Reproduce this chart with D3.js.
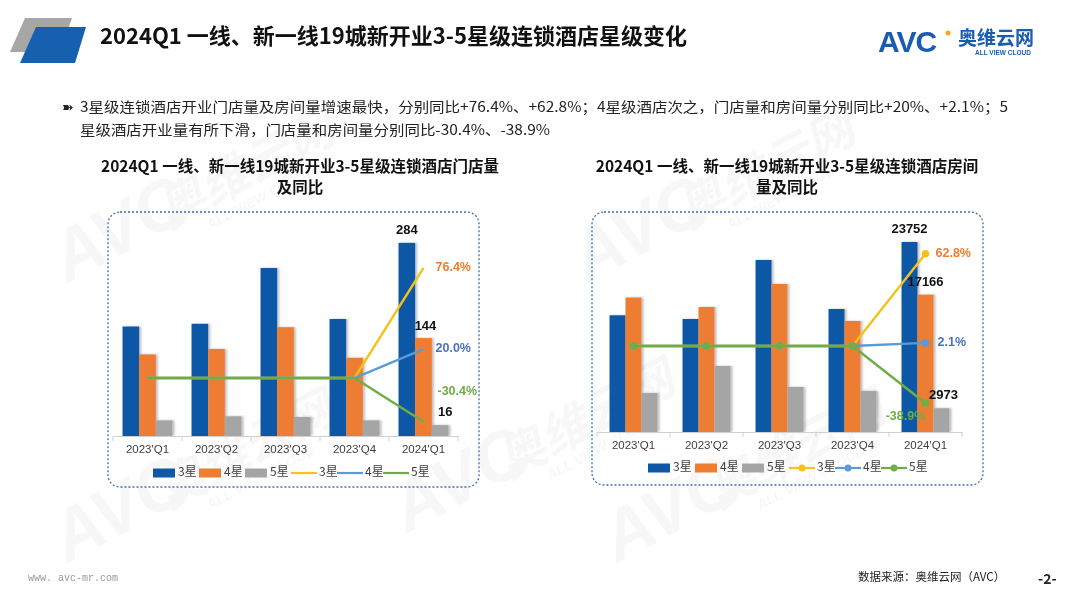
<!DOCTYPE html>
<html><head><meta charset="utf-8">
<script src="https://cdn.jsdelivr.net/npm/d3@7/dist/d3.min.js"></script>
<style>
body{margin:0;background:#fff;}
svg{display:block;font-family:"Microsoft YaHei","Noto Sans CJK SC",Arial,sans-serif;}
</style></head>
<body><svg id="c" width="1080" height="608"></svg>
<script>
// ---- data ----
const categories = ["2023'Q1","2023'Q2","2023'Q3","2023'Q4","2024'Q1"];
const seriesNames = ["3星","4星","5星"];
const storeStar3 = [161,165,247,172,284];
const storeStar4 = [120,128,160,115,144];
const storeStar5 = [23,29,28,23,16];
const storeYoy3 = [0,0,0,0,76.4];
const storeYoy4 = [0,0,0,0,20.0];
const storeYoy5 = [0,0,0,0,-30.4];
const roomStar3 = [14590,14125,21500,15375,23752];
const roomStar4 = [16813,15625,18500,13875,17166];
const roomStar5 = [4866,8250,5625,5125,2973];
const roomYoy3 = [0,0,0,0,62.8];
const roomYoy4 = [0,0,0,0,2.1];
const roomYoy5 = [0,0,0,0,-38.9];
const storeLabels = ["76.4%","20.0%","-30.4%"];
const roomLabels = ["62.8%","2.1%","-38.9%"];

const barColors = ["#0E58A6","#ED7D31","#A5A5A5"];
const lineColors = ["#F5C21B","#5B9BD5","#70AD47"];
const pctColors = ["#ED7D31","#4A72C2","#70AD47"];

const svg = d3.select("#c");

// ---- watermarks ----
const wm = svg.append("g").attr("fill","#000").attr("opacity",0.035).style("font-style","italic").style("font-weight","bold");
[[130,250],[650,250],[470,500],[680,530],[130,530]].forEach(([x,y])=>{
  const g = wm.append("g").attr("transform",`translate(${x},${y}) rotate(-28)`);
  g.append("text").attr("font-size",70).attr("font-family","Arial").attr("text-anchor","middle").text("AVC");
  g.append("text").attr("x",140).attr("font-size",48).attr("text-anchor","middle").text("奥维云网");
  g.append("text").attr("x",140).attr("y",20).attr("font-size",14).attr("font-family","Arial").attr("text-anchor","middle").text("ALL VIEW CLOUD");
});

// ---- header ----
svg.append("path").attr("d","M25,18 L72,18 L60,52 L10,52 Z").attr("fill","#A6A6A6");
svg.append("path").attr("d","M36,27 L86,27 L75,63 L20,63 Z").attr("fill","#1561B0");
svg.append("text").attr("x",100).attr("y",44).attr("font-size",22).attr("font-weight","bold").attr("fill","#111")
  .text("2024Q1  一线、新一线19城新开业3-5星级连锁酒店星级变化");
// logo
const logo = svg.append("g");
logo.append("text").attr("x",878).attr("y",52).attr("font-family","Arial").attr("font-weight","900").attr("font-size",30).attr("fill","#1A5CAE").attr("letter-spacing",-1).text("AVC");
logo.append("circle").attr("cx",948).attr("cy",33).attr("r",2.5).attr("fill","#F5A623");
logo.append("text").attr("x",958).attr("y",45).attr("font-weight","bold").attr("font-size",19).attr("fill","#1A5CAE").text("奥维云网");
logo.append("text").attr("x",975).attr("y",55).attr("font-family","Arial").attr("font-weight","bold").attr("font-size",6.5).attr("fill","#1A5CAE").text("ALL VIEW CLOUD");

// ---- bullet text ----
svg.append("text").attr("x",62).attr("y",112).attr("font-size",14).attr("fill","#222").text("➽");
svg.append("text").attr("x",80).attr("y",112).attr("font-size",14).attr("fill","#222")
  .attr("textLength",928).attr("lengthAdjust","spacingAndGlyphs")
  .text("3星级连锁酒店开业门店量及房间量增速最快，分别同比+76.4%、+62.8%；4星级酒店次之，门店量和房间量分别同比+20%、+2.1%；5");
svg.append("text").attr("x",80).attr("y",135).attr("font-size",14).attr("fill","#222")
  .attr("textLength",470).attr("lengthAdjust","spacingAndGlyphs")
  .text("星级酒店开业量有所下滑，门店量和房间量分别同比-30.4%、-38.9%");

// ---- footer ----
svg.append("text").attr("x",28).attr("y",581).attr("font-size",10).attr("font-family","Liberation Mono, monospace").attr("fill","#999").text("www. avc-mr.com");
svg.append("text").attr("x",858).attr("y",581).attr("font-size",11.5).attr("fill","#222").text("数据来源：奥维云网（AVC）");
svg.append("text").attr("x",1038).attr("y",584).attr("font-size",14).attr("font-weight","bold").attr("fill","#222").text("-2-");

// ---- chart builder ----
function chart(o){
  const g = svg.append("g");
  o.title.forEach((t,i)=>g.append("text").attr("x",o.titleX).attr("y",172+i*21).attr("text-anchor","middle")
    .attr("font-size",15.5).attr("font-weight","bold").attr("fill","#111").text(t));
  g.append("rect").attr("x",o.box[0]).attr("y",o.box[1]).attr("width",o.box[2]-o.box[0]).attr("height",o.box[3]-o.box[1])
    .attr("rx",12).attr("fill","none").attr("stroke","#3F6FA8").attr("stroke-width",1.3).attr("stroke-dasharray","2,2");
  const x0 = d3.scaleBand().domain(categories).range(o.xr).paddingInner(0).paddingOuter(0);
  const x1 = d3.scaleBand().domain(seriesNames).range([0,o.groupW]);
  const off = (x0.bandwidth()-o.groupW)/2;
  const y = d3.scaleLinear().domain(o.yd).range(o.yr);
  const y2 = d3.scaleLinear().domain(o.y2d).range(o.y2r);
  const defs = g.append("defs");
  const f = defs.append("filter").attr("id","sh"+o.id).attr("x","-20%").attr("y","-5%").attr("width","150%").attr("height","110%");
  f.append("feDropShadow").attr("dx",2).attr("dy",0).attr("stdDeviation",1).attr("flood-color","#000").attr("flood-opacity",0.25);
  o.bars.forEach((vals,si)=>{
    g.append("g").attr("filter",`url(#sh${o.id})`).selectAll("rect").data(vals).join("rect")
      .attr("x",(d,i)=>x0(categories[i])+off+x1(seriesNames[si]))
      .attr("y",d=>y(d)).attr("width",x1.bandwidth()).attr("height",d=>y(0)-y(d)).attr("fill",barColors[si]);
  });
  const ax = g.append("g").attr("transform",`translate(0,${y(0)})`)
    .call(d3.axisBottom(x0).tickSize(0).tickPadding(9));
  ax.select(".domain").attr("stroke","#D0D0D0");
  ax.selectAll("text").attr("font-size",11.5).attr("fill","#404040").attr("font-family","Arial, sans-serif");
  const bounds = [o.xr[0]].concat(categories.map(c=>x0(c)+x0.bandwidth()));
  g.selectAll(".tk").data(bounds).join("line").attr("x1",d=>d).attr("x2",d=>d).attr("y1",y(0)).attr("y2",y(0)+5).attr("stroke","#D0D0D0");
  const cx = c=>x0(c)+x0.bandwidth()/2;
  o.lines.forEach((vals,si)=>{
    const line = d3.line().x((d,i)=>cx(categories[i])).y(d=>y2(d));
    g.append("path").datum(vals).attr("d",line).attr("fill","none").attr("stroke",lineColors[si]).attr("stroke-width",2.4);
    if(o.markers){
      g.selectAll(null).data(vals).join("circle").attr("cx",(d,i)=>cx(categories[i])).attr("cy",d=>y2(d)).attr("r",3.8).attr("fill",lineColors[si]);
    }
  });
  const last = categories.length-1;
  o.bars.forEach((vals,si)=>{
    const bx = x0(categories[last])+off+x1(seriesNames[si])+x1.bandwidth()/2 + o.valDx[si];
    g.append("text").attr("x",bx).attr("y",y(vals[last])-o.valDy[si]).attr("text-anchor","middle")
      .attr("font-size",13).attr("font-weight","bold").attr("font-family","Arial, sans-serif").attr("fill","#111").text(vals[last]);
  });
  o.lines.forEach((vals,si)=>{
    const px = cx(categories[last]);
    g.append("text").attr("x",px+o.pctDx[si]).attr("y",y2(vals[last])+o.pctDy[si]).attr("dominant-baseline","middle")
      .attr("text-anchor",o.pctAnchor[si]).attr("font-size",12.5).attr("font-weight","bold").attr("font-family","Arial, sans-serif")
      .attr("fill",pctColors[si]).text(o.pctLabels[si]);
  });
  const lg = g.append("g").attr("transform",`translate(${o.legX},${o.legY})`).attr("font-size",12).attr("fill","#404040");
  let lx = 0;
  seriesNames.forEach((s,i)=>{
    lg.append("rect").attr("x",lx).attr("y",-4.5).attr("width",22).attr("height",9).attr("fill",barColors[i]);
    lg.append("text").attr("x",lx+25).attr("y",0).attr("dominant-baseline","middle").text(s);
    lx += o.legStep;
  });
  seriesNames.forEach((s,i)=>{
    lg.append("line").attr("x1",lx).attr("x2",lx+26).attr("y1",0).attr("y2",0).attr("stroke",lineColors[i]).attr("stroke-width",2.2);
    if(o.markers) lg.append("circle").attr("cx",lx+13).attr("cy",0).attr("r",3.5).attr("fill",lineColors[i]);
    lg.append("text").attr("x",lx+28).attr("y",0).attr("dominant-baseline","middle").text(s);
    lx += o.legStep2;
  });
}

chart({id:"L",title:["2024Q1  一线、新一线19城新开业3-5星级连锁酒店门店量","及同比"],titleX:300,
  box:[108,212,479,487],xr:[113,458],groupW:50,yd:[0,300],yr:[436,232],y2d:[-40,80],y2r:[435.6,262.8],
  bars:[storeStar3,storeStar4,storeStar5],lines:[storeYoy3,storeYoy4,storeYoy5],markers:false,
  valDx:[0,2,5],valDy:[9,8,9],pctLabels:storeLabels,pctDx:[12,12,14],pctDy:[0,0,-30],pctAnchor:["start","start","start"],
  legX:153,legY:473,legStep:46,legStep2:46});

chart({id:"R",title:["2024Q1  一线、新一线19城新开业3-5星级连锁酒店房间","量及同比"],titleX:787,
  box:[592,212,983,485],xr:[597,962],groupW:48,yd:[0,25000],yr:[432,232],y2d:[-40,70],y2r:[404.8,243.1],
  bars:[roomStar3,roomStar4,roomStar5],lines:[roomYoy3,roomYoy4,roomYoy5],markers:true,
  valDx:[0,0,2],valDy:[9,9,9],pctLabels:roomLabels,pctDx:[10,12,-20],pctDy:[0,0,14],pctAnchor:["start","start","middle"],
  legX:648,legY:468,legStep:47,legStep2:46});
</script></body></html>
